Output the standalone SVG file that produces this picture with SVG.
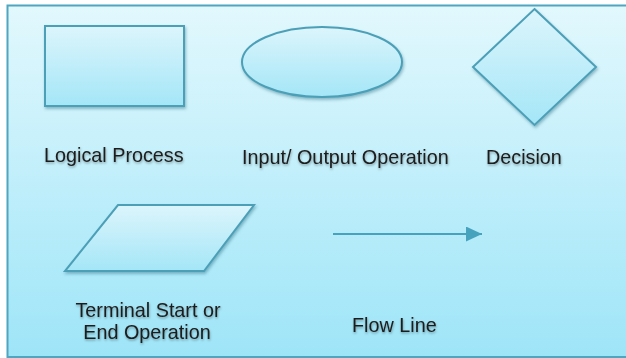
<svg xmlns="http://www.w3.org/2000/svg" width="626" height="358" viewBox="0 0 626 358">
<defs>
<linearGradient id="bg" x1="0" y1="0" x2="0" y2="1">
<stop offset="0" stop-color="#e2f8fd"/>
<stop offset="1" stop-color="#9ee5f8"/>
</linearGradient>
<linearGradient id="sh" x1="0" y1="0" x2="0" y2="1">
<stop offset="0" stop-color="#dcf5fc"/>
<stop offset="1" stop-color="#a4e6f7"/>
</linearGradient>
<filter id="ds" x="-10%" y="-10%" width="130%" height="130%">
<feDropShadow dx="1" dy="2" stdDeviation="1.5" flood-color="#2a6f82" flood-opacity="0.45"/>
</filter>
<filter id="ts" x="-5%" y="-20%" width="110%" height="160%">
<feDropShadow dx="0.5" dy="1.5" stdDeviation="1" flood-color="#000" flood-opacity="0.35"/>
</filter>
<marker id="arr" markerWidth="17" markerHeight="15" refX="16" refY="7.5" orient="auto" markerUnits="userSpaceOnUse">
<path d="M0,0 L16,7.5 L0,15 Z" fill="#47a3bd"/>
</marker>
</defs>
<style>
.shape{fill:url(#sh);stroke:#4c9fb7;stroke-width:2;filter:url(#ds)}
.lbl{font-family:"Liberation Sans",Arial,sans-serif;font-size:19.8px;fill:#1c1c1c;filter:url(#ts)}
.conn{stroke:#47a3bd;stroke-width:2;fill:none}
</style>
<rect x="0" y="0" width="626" height="358" fill="#ffffff"/>
<rect x="7.5" y="5.5" width="640" height="351.5" fill="url(#bg)" stroke="#4ea6c0" stroke-width="2"/>
<g id="logical-process">
<rect class="shape" x="45" y="26" width="139" height="80"/>
<text class="lbl" x="44" y="162" font-size="20.2">Logical Process</text>
</g>
<g id="input-output">
<ellipse class="shape" cx="322" cy="62" rx="80" ry="35"/>
<text class="lbl" x="242" y="164">Input/ Output Operation</text>
</g>
<g id="decision">
<polygon class="shape" points="534.5,9 596,67 534.5,125 473,67"/>
<text class="lbl" x="486" y="164">Decision</text>
</g>
<g id="terminal">
<polygon class="shape" points="118,205 254,205 204,271 65,271"/>
<text class="lbl" x="148" y="317" text-anchor="middle">Terminal Start or</text>
<text class="lbl" x="147" y="339" text-anchor="middle">End Operation</text>
</g>
<g id="flow-line">
<text class="lbl" x="352" y="332">Flow Line</text>
</g>
<g id="connectors">
<line class="conn" x1="333" y1="234" x2="482" y2="234" marker-end="url(#arr)"/>
</g>
</svg>
